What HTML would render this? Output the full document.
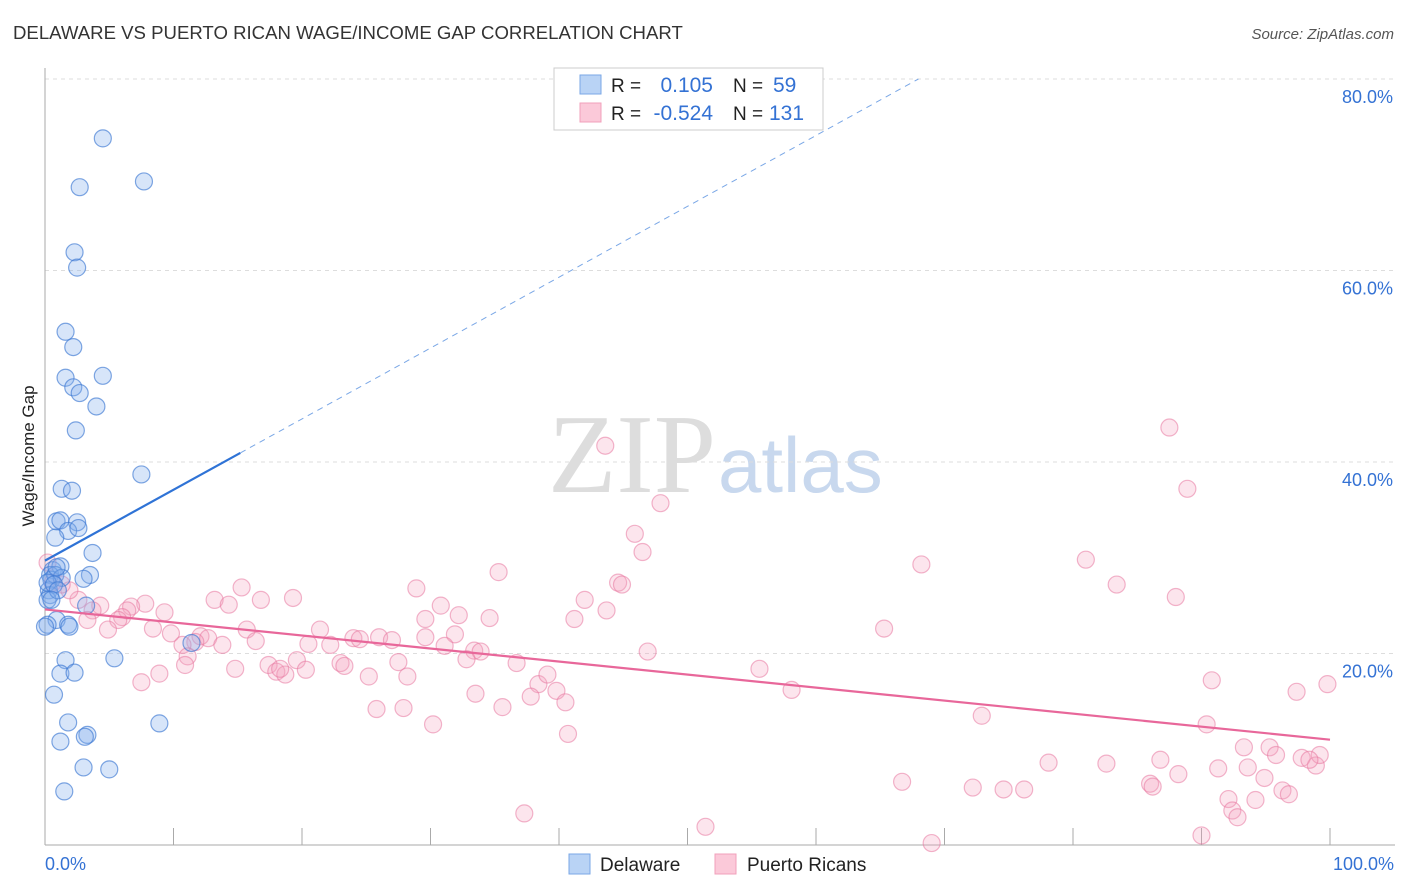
<!DOCTYPE html>
<html><head><meta charset="utf-8"><style>
body{margin:0;background:#fff;font-family:"Liberation Sans",sans-serif;}
svg{display:block}
</style></head><body>
<svg id="chart" width="1406" height="892">
<text x="13" y="39" font-size="18.6" fill="#333">DELAWARE VS PUERTO RICAN WAGE/INCOME GAP CORRELATION CHART</text>
<text x="1394" y="39" font-size="15" fill="#555" font-style="italic" text-anchor="end">Source: ZipAtlas.com</text>
<text x="0" y="0" transform="translate(34,456) rotate(-90)" font-size="17" fill="#222" text-anchor="middle">Wage/Income Gap</text>
<text x="716" y="492" font-size="112" fill="#ddd" font-family="Liberation Serif,serif" text-anchor="end">ZIP</text>
<text x="718" y="492" font-size="78" fill="#c8d8ee">atlas</text>
<g id="grid"></g><g id="pts"></g><g id="lines"></g>
<g>
<rect x="554" y="68" width="269" height="62" fill="#fff" stroke="#ccc"/>
<rect x="580" y="75" width="21" height="19" fill="#b9d3f5" stroke="#7aa7e6"/>
<rect x="580" y="103" width="21" height="19" fill="#fbc9d9" stroke="#f1a0bb"/>
<text x="611" y="92" font-size="19" fill="#222">R =</text>
<text x="713" y="92" font-size="21" fill="#3472d4" text-anchor="end">0.105</text>
<text x="733" y="92" font-size="19" fill="#222">N =</text>
<text x="773" y="92" font-size="21" fill="#3472d4">59</text>
<text x="611" y="120" font-size="19" fill="#222">R =</text>
<text x="713" y="120" font-size="21" fill="#3472d4" text-anchor="end">-0.524</text>
<text x="733" y="120" font-size="19" fill="#222">N =</text>
<text x="769" y="120" font-size="21" fill="#3472d4">131</text>
</g>
<g>
<rect x="569" y="854" width="21" height="20" fill="#b9d3f5" stroke="#7aa7e6"/>
<text x="600" y="871" font-size="19" fill="#222">Delaware</text>
<rect x="715" y="854" width="21" height="20" fill="#fbc9d9" stroke="#f1a0bb"/>
<text x="747" y="871" font-size="19" fill="#222">Puerto Ricans</text>
</g>
<text x="45" y="870" font-size="18" fill="#3472d4">0.0%</text>
<text x="1394" y="870" font-size="18" fill="#3472d4" text-anchor="end">100.0%</text>
</svg>
<script>
const yTicks=[20,40,60,80];
const yTickLabels=["20.0%","40.0%","60.0%","80.0%"];
const blueX=[4.5,2.7,7.7,2.3,2.5,1.6,2.2,1.6,2.2,2.7,4.5,4.0,2.4,7.5,1.3,2.1,0.9,1.2,2.5,1.8,2.6,0.8,3.7,0.6,1.2,0.4,3.5,3.0,0.5,0.3,0.4,3.2,0.9,1.8,1.9,0.2,1.6,5.4,1.2,2.3,0.7,1.8,8.9,3.3,3.1,1.2,3.0,5.0,1.5,11.4,0,0.8,1.3,0.2,0.7,0.2,1.0,0.5,0.9];
const blueY=[73.8,68.7,69.3,61.9,60.3,53.6,52.0,48.8,47.8,47.2,49.0,45.8,43.3,38.7,37.2,37.0,33.8,33.9,33.7,32.8,33.1,32.1,30.5,28.7,29.1,28.2,28.2,27.8,27.7,26.6,26.1,25.0,23.5,23.0,22.8,23.0,19.3,19.5,17.9,18.0,15.7,12.8,12.7,11.5,11.3,10.8,8.1,7.9,5.6,21.1,22.8,28.2,27.9,27.4,27.2,25.6,26.6,25.6,29.0];
const pinkX=[43.6,87.5,88.9,47.9,45.9,46.5,68.2,81.0,83.4,88.0,35.3,28.9,44.6,44.9,42.0,43.7,41.2,30.8,32.2,34.6,29.6,31.9,29.6,31.1,33.4,33.9,32.8,36.7,27.5,28.2,25.2,24.0,24.5,26.0,27.0,21.4,20.5,22.2,19.6,20.3,23.0,23.3,17.4,18.0,18.7,18.3,15.3,13.2,14.3,16.8,19.3,15.7,16.4,12.1,12.7,11.7,10.7,9.8,8.4,9.3,7.8,6.7,6.4,6.0,5.7,4.3,3.7,3.3,2.6,1.9,1.3,0.6,0.2,4.9,13.8,11.1,10.9,14.8,8.9,7.5,25.8,27.9,30.2,35.6,33.5,38.4,39.1,39.8,37.8,40.5,40.7,46.9,55.6,58.1,65.3,72.9,90.8,97.4,99.8,90.4,93.3,95.3,95.8,97.8,98.9,99.2,98.4,86.8,82.6,78.1,88.2,91.3,93.6,94.9,86.0,86.2,72.2,74.6,76.2,66.7,92.1,96.3,96.8,94.2,92.4,92.8,90.0,69.0,51.4,37.3];
const pinkY=[41.7,43.6,37.2,35.7,32.5,30.6,29.3,29.8,27.2,25.9,28.5,26.8,27.4,27.2,25.6,24.5,23.6,25.0,24.0,23.7,23.6,22.0,21.7,20.8,20.3,20.2,19.4,19.0,19.1,17.6,17.6,21.6,21.5,21.7,21.4,22.5,21.0,20.9,19.3,18.3,19.0,18.7,18.8,18.1,17.8,18.4,26.9,25.6,25.1,25.6,25.8,22.5,21.3,21.8,21.6,21.2,20.9,22.1,22.6,24.3,25.2,24.9,24.5,23.8,23.5,25.0,24.5,23.5,25.6,26.6,27.2,27.4,29.5,22.5,20.9,19.7,18.8,18.4,17.9,17.0,14.2,14.3,12.6,14.4,15.8,16.8,17.8,16.1,15.5,14.9,11.6,20.2,18.4,16.2,22.6,13.5,17.2,16.0,16.8,12.6,10.2,10.2,9.4,9.1,8.3,9.4,8.9,8.9,8.5,8.6,7.4,8.0,8.1,7.0,6.4,6.1,6.0,5.8,5.8,6.6,4.8,5.7,5.3,4.7,3.6,2.9,1.0,0.2,1.9,3.3];
const blueLine=[29.7,0.74];   // intercept, slope
const pinkLine=[24.6,-0.136];

const NS="http://www.w3.org/2000/svg";
const X=v=>45+v*12.85, Y=v=>845-v*9.575;
function mk(tag,attrs,parent){const e=document.createElementNS(NS,tag);for(const k in attrs)e.setAttribute(k,attrs[k]);parent.appendChild(e);return e;}
const grid=document.getElementById('grid'),pts=document.getElementById('pts'),lines=document.getElementById('lines');
yTicks.forEach((t,i)=>{
  const l=mk('line',{x1:45,x2:1395,y1:Y(t),y2:Y(t),stroke:'#ddd','stroke-dasharray':'4,4'},grid);
  
  
  const tx=mk('text',{x:1393,y:Y(t)+24,'font-size':18,fill:'#3472d4','text-anchor':'end'},grid);
  tx.textContent=yTickLabels[i];
  
  
});
const ax=mk('line',{x1:45,x2:45,y1:68,y2:845,stroke:'#aaa'},grid);


const bx=mk('line',{x1:45,x2:1395,y1:845,y2:845,stroke:'#aaa'},grid);


for(let k=1;k<=10;k++){
  const t=mk('line',{x1:X(k*10),x2:X(k*10),y1:828,y2:845,stroke:'#aaa'},grid);
  
  
}
pinkX.forEach((v,i)=>{
  const c=mk('circle',{cx:X(v),cy:Y(pinkY[i]),r:8.5,fill:'rgba(244,160,190,0.28)',stroke:'rgba(232,120,160,0.55)','stroke-width':1.2},pts);
  
  
});
blueX.forEach((v,i)=>{
  const c=mk('circle',{cx:X(v),cy:Y(blueY[i]),r:8.5,fill:'rgba(130,175,235,0.32)',stroke:'rgba(60,120,210,0.65)','stroke-width':1.2},pts);
  
  
});
const bl=mk('line',{x1:X(0),y1:Y(blueLine[0]),x2:X(15.2),y2:Y(blueLine[0]+blueLine[1]*15.2),stroke:'#2f73d6','stroke-width':2.2},lines);


const xe=(80-blueLine[0])/blueLine[1];
const bd=mk('line',{x1:X(15.2),y1:Y(blueLine[0]+blueLine[1]*15.2),x2:X(xe),y2:Y(80),stroke:'#7aa7e6','stroke-width':1,'stroke-dasharray':'6,5'},lines);


const pl=mk('line',{x1:X(0),y1:Y(pinkLine[0]),x2:X(100),y2:Y(pinkLine[0]+pinkLine[1]*100),stroke:'#e8679a','stroke-width':2.2},lines);


</script>
</body></html>
